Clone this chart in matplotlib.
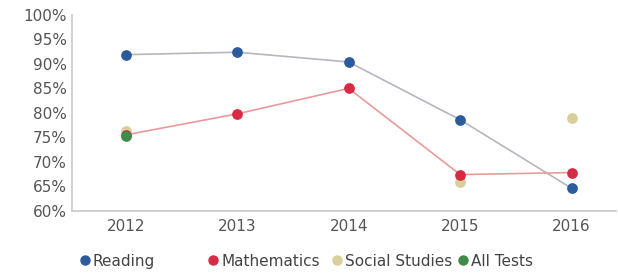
import matplotlib
matplotlib.use('Agg')
from matplotlib import pyplot as plt
from matplotlib.lines import Line2D
import matplotlib.ticker as ticker

years = [2012, 2013, 2014, 2015, 2016]
reading = [91.9, 92.4, 90.4, 78.6, 64.6]
mathematics = [75.5, 79.8, 85.0, 67.4, 67.8]
social_years = [2012, 2015, 2016]
social_studies = [76.2, 65.9, 78.9]
all_years = [2012]
all_tests = [75.3]

names = ['Reading', 'Mathematics', 'Social Studies', 'All Tests']
colors = ['#2b5b9b', '#d82a42', '#d8cf9c', '#3f8b4c']

W, H = 618, 273
fig = plt.figure(figsize=(W / 100, H / 100), dpi=100)
ax = fig.add_axes([0.117, 0.228, 0.88, 0.717])

ax.plot(years, reading, color='#b4b6c0', linewidth=1.2, zorder=1)
ax.plot(years, mathematics, color='#e99a9a', linewidth=1.2, zorder=1)
ax.scatter(years, reading, color=colors[0], s=45, zorder=3)
ax.scatter(years, mathematics, color=colors[1], s=45, zorder=4)
ax.scatter(social_years, social_studies, color=colors[2], s=45, zorder=2)
ax.scatter(all_years, all_tests, color=colors[3], s=45, zorder=5)

ax.set_ylim(60, 100)
ax.set_xlim(2011.52, 2016.4)
ax.set_xticks(years)
ax.yaxis.set_major_locator(ticker.MultipleLocator(5))
ax.yaxis.set_major_formatter(ticker.FuncFormatter(lambda v, p: '%d%%' % v))

for s in ['top', 'right']:
    ax.spines[s].set_visible(False)
for s in ['left', 'bottom']:
    ax.spines[s].set_color('#c8c8cc')
    ax.spines[s].set_linewidth(1.2)
ax.tick_params(length=0, labelsize=11, colors='#555555', pad=4)
ax.tick_params(axis='x', pad=6)

# legend laid out by hand, entries spaced like the original
leg_x = [85, 213, 337, 463]
leg_y = 1 - 260 / H
for x, name, c in zip(leg_x, names, colors):
    fig.add_artist(Line2D([x / W], [leg_y], marker='o', markersize=6.5, color=c,
                          linestyle='none', transform=fig.transFigure))
    fig.text((x + 8) / W, leg_y, name, fontsize=11, color='#444444',
             va='center_baseline', ha='left')

fig.savefig('out.png')
